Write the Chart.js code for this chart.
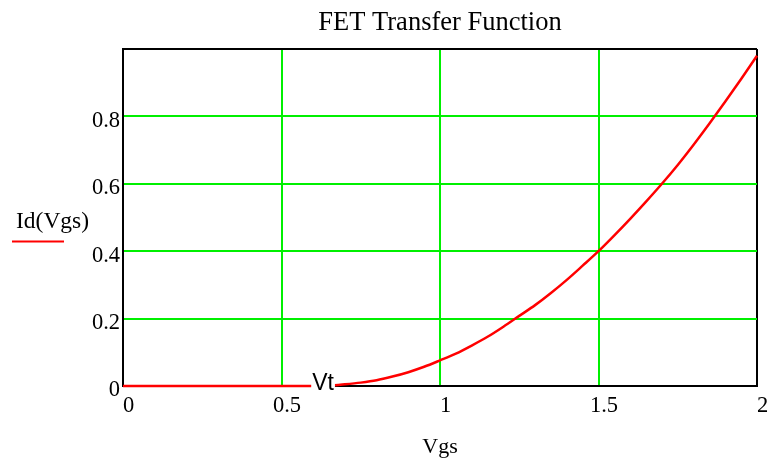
<!DOCTYPE html>
<html>
<head>
<meta charset="utf-8">
<script src="https://cdn.jsdelivr.net/npm/chart.js@4/dist/chart.umd.min.js"></script>
<style>
  html, body { margin: 0; padding: 0; background: #fff; }
  #c { display: block; }
</style>
</head>
<body>
<canvas id="c" width="770" height="460"></canvas>
<script>
// Gate-source voltage samples (V)
const vgs = [0, 0.1, 0.2, 0.3, 0.4, 0.5, 0.6, 0.65, 0.7, 0.75, 0.8, 0.85, 0.9, 0.95,
             1.0, 1.05, 1.1, 1.15, 1.2, 1.25, 1.3, 1.35, 1.4, 1.45, 1.5, 1.55, 1.6,
             1.65, 1.7, 1.75, 1.8, 1.85, 1.9, 1.95, 2.0];
// Drain current Id(Vgs)
const id = [0, 0, 0, 0, 0, 0, 0, 0.001, 0.005, 0.010, 0.017, 0.028, 0.041, 0.057,
            0.076, 0.096, 0.120, 0.146, 0.176, 0.208, 0.240, 0.276, 0.315, 0.357, 0.400, 0.447, 0.496,
            0.547, 0.600, 0.656, 0.716, 0.779, 0.844, 0.911, 0.980];
// Threshold voltage marker
const vtLabel = 'Vt';
const vtValue = 0.6;
const xTicks = [0, 0.5, 1, 1.5, 2];
const yTicks = [0, 0.2, 0.4, 0.6, 0.8];

const SERIF = "'Liberation Serif', 'Times New Roman', serif";
const GRID = '#00f000';

const annotations = {
  id: 'annotations',
  afterDatasetsDraw(chart) {
    const {ctx, scales: {x, y}, chartArea} = chart;
    ctx.save();
    // threshold label sitting on the axis
    ctx.font = "23px 'Liberation Sans', Arial, sans-serif";
    ctx.textBaseline = 'alphabetic';
    const tx = x.getPixelForValue(vtValue) - 1;
    const ty = y.getPixelForValue(0) + 4;
    const w = ctx.measureText(vtLabel).width;
    ctx.fillStyle = '#fff';
    ctx.fillRect(tx - 1, ty - 19, w + 2, 21);
    ctx.fillStyle = '#000';
    ctx.fillText(vtLabel, tx, ty);

    // trace label with its line sample, left of the y axis
    ctx.font = '23.5px ' + SERIF;
    const midY = (chartArea.top + chartArea.bottom) / 2;
    ctx.fillText('Id(Vgs)', 16, midY + 10);
    ctx.strokeStyle = '#ff0000';
    ctx.lineWidth = 2;
    ctx.beginPath();
    ctx.moveTo(12, midY + 24);
    ctx.lineTo(64, midY + 24);
    ctx.stroke();
    ctx.restore();
  }
};

Chart.defaults.color = '#000';

new Chart(document.getElementById('c'), {
  type: 'line',
  data: {
    datasets: [{
      data: vgs.map((v, i) => ({x: v, y: id[i]})),
      borderColor: '#ff0000',
      borderWidth: 2.5,
      pointRadius: 0,
      cubicInterpolationMode: 'monotone',
      fill: false,
      clip: false
    }]
  },
  options: {
    responsive: false,
    animation: false,
    devicePixelRatio: 1,
    layout: { padding: { left: 0, right: 13, top: 0, bottom: 0 } },
    plugins: {
      legend: { display: false },
      tooltip: { enabled: false },
      title: {
        display: true,
        fullSize: false,
        text: 'FET Transfer Function',
        color: '#000',
        font: { family: SERIF, size: 26.5, weight: 'normal' },
        padding: { top: 7, bottom: 10.2 }
      }
    },
    scales: {
      x: {
        type: 'linear',
        min: 0,
        max: 2,
        afterBuildTicks(scale) { scale.ticks = xTicks.map(v => ({value: v})); },
        afterFit(scale) { scale.height = 74; },
        ticks: {
          padding: 7,
          labelOffset: 5.5,
          maxRotation: 0,
          font: { family: SERIF, size: 22.5 },
          callback: v => String(v)
        },
        grid: {
          drawTicks: false,
          lineWidth: 2,
          color: c => (c.tick && c.tick.value === 2) ? '#000' : GRID
        },
        border: { color: '#000', width: 2 },
        title: {
          display: true,
          text: 'Vgs',
          font: { family: SERIF, size: 22 },
          padding: { top: 0, bottom: 0 }
        }
      },
      y: {
        type: 'linear',
        min: 0,
        max: 1,
        afterBuildTicks(scale) { scale.ticks = yTicks.concat([1]).map(v => ({value: v})); },
        afterFit(scale) { scale.width = 123; },
        ticks: {
          padding: 3,
          labelOffset: 4.5,
          font: { family: SERIF, size: 22.5 },
          callback: v => (v >= 1 ? '' : String(v))
        },
        grid: {
          drawTicks: false,
          lineWidth: 2,
          color: c => (c.tick && c.tick.value === 1) ? '#000' : GRID
        },
        border: { color: '#000', width: 2 }
      }
    }
  },
  plugins: [annotations]
});
</script>
</body>
</html>
